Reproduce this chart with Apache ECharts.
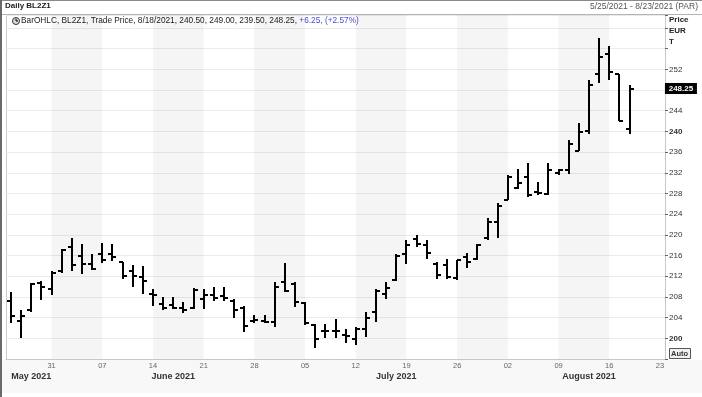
<!DOCTYPE html>
<html>
<head>
<meta charset="utf-8">
<script src="https://cdn.jsdelivr.net/npm/echarts@6/dist/echarts.min.js"></script>
<style>
html,body{margin:0;padding:0;background:#fff;}
#chart{width:702px;height:397px;}
</style>
</head>
<body>
<div id="chart"></div>
<script>
// trading days shown on the axis (5/25/2021 - 8/23/2021)
var days = ['05-25','05-26','05-27','05-28','05-31',
  '06-01','06-02','06-03','06-04','06-07','06-08','06-09','06-10','06-11',
  '06-14','06-15','06-16','06-17','06-18','06-21','06-22','06-23','06-24','06-25',
  '06-28','06-29','06-30','07-01','07-02','07-05','07-06','07-07','07-08','07-09',
  '07-12','07-13','07-14','07-15','07-16','07-19','07-20','07-21','07-22','07-23',
  '07-26','07-27','07-28','07-29','07-30','08-02','08-03','08-04','08-05','08-06',
  '08-09','08-10','08-11','08-12','08-13','08-16','08-17','08-18','08-19','08-20','08-23'];

// OHLC values, one per trading day up to 8/18
var openP  = [207.3,203.4,205.4,210.7,209.5,213.1,217.6,216.0,214.4,216.3,216.3,214.7,213.1,211.8,
  208.5,206.7,206.5,205.9,205.9,207.6,208.3,208.1,207.3,205.9,203.4,203.3,203.1,210.8,210.5,
  206.9,202.5,201.4,201.5,200.7,199.9,201.8,205.0,208.5,211.3,216.3,219.2,218.0,214.3,214.1,
  211.7,215.7,215.4,219.3,222.5,226.8,229.0,231.1,228.3,227.9,231.9,232.6,236.3,240.0,251.0,
  255.0,251.0,240.50];
var highP  = [209.0,205.5,210.7,211.0,213.0,217.3,219.4,218.3,216.3,218.4,218.3,214.7,214.1,213.9,
  209.6,207.9,207.9,207.0,209.7,209.6,209.9,210.0,207.6,206.3,204.5,204.5,210.8,214.6,210.8,
  207.0,202.8,202.8,203.7,201.8,202.1,205.0,209.5,210.8,216.3,219.0,219.9,219.0,214.8,215.4,
  215.1,216.5,218.3,223.2,226.1,231.5,232.8,233.8,230.3,233.8,232.8,238.4,241.7,249.9,258.1,
  256.5,251.0,249.00];
var lowP   = [203.0,200.1,205.0,207.4,208.3,212.6,213.0,212.5,213.2,214.5,215.0,211.5,210.0,208.6,
  206.3,205.5,205.6,204.9,205.7,205.7,207.3,207.3,203.9,201.3,203.0,203.0,202.1,208.9,206.0,
  202.6,198.2,200.1,200.1,199.0,198.8,200.2,203.1,207.6,211.0,214.4,217.6,215.4,211.4,211.5,
  211.3,213.5,215.2,219.1,219.3,226.7,228.8,227.4,227.7,227.7,231.5,231.7,236.2,239.5,249.4,
  250.0,242.0,239.50];
var closeP = [204.4,204.4,210.5,209.9,212.7,217.1,214.1,214.4,213.4,215.2,215.7,212.1,212.1,211.0,
  208.3,205.9,205.9,205.5,209.4,208.3,207.8,207.8,205.5,202.3,203.6,203.2,209.9,209.2,207.0,
  203.0,199.9,201.5,201.5,200.5,201.8,204.0,209.1,209.7,216.0,218.0,218.3,216.4,212.2,211.9,
  215.1,214.8,218.0,222.5,225.5,231.1,230.1,227.7,228.1,232.5,232.6,237.6,239.9,248.9,254.4,
  251.5,242.0,248.25];
var lastPrice = 248.25;

// axis labels
var weekTicks = ['05-31','06-07','06-14','06-21','06-28','07-05','07-12','07-19','07-26','08-02','08-09','08-16','08-23'];
var monthStarts = ['06-01','07-01','08-02'];
var monthDays = ['05-27','06-16','07-16','08-12'];
var monthNames = ['May 2021','June 2021','July 2021','August 2021'];
var shadeWeeks = [['05-31','06-07'],['06-14','06-21'],['06-28','07-05'],['07-12','07-19'],['07-26','08-02'],['08-09','08-16']];

var FONT = '"Liberation Sans", Arial, sans-serif';

var barData = [];
for (let i = 0; i < closeP.length; i++) {
    barData.push([i, openP[i], highP[i], lowP[i], closeP[i]]);
}

// OHLC bar: high-low stem, open tick left, close tick right
function renderBar(params, api) {
    var idx = api.value(0);
    var x = Math.round(api.coord([idx, api.value(1)])[0]);
    var yo = Math.round(api.coord([idx, api.value(1)])[1]);
    var yh = Math.round(api.coord([idx, api.value(2)])[1]);
    var yl = Math.round(api.coord([idx, api.value(3)])[1]);
    var yc = Math.round(api.coord([idx, api.value(4)])[1]);
    var st = {stroke: '#000', lineWidth: 2};
    return {
        type: 'group',
        children: [
            {type: 'line', shape: {x1: x, y1: yh, x2: x, y2: yl}, style: st},
            {type: 'line', shape: {x1: x - 4, y1: yo, x2: x, y2: yo}, style: st},
            {type: 'line', shape: {x1: x, y1: yc, x2: x + 4, y2: yc}, style: st}
        ]
    };
}

var chart = echarts.init(document.getElementById('chart'), null, {renderer: 'canvas'});

var option = {
    animation: false,
    backgroundColor: '#fff',
    grid: {left: 6, right: 37, top: 15, bottom: 38},
    xAxis: [{
        type: 'category',
        data: days,
        axisLine: {lineStyle: {color: '#c8c8c8'}},
        axisTick: {
            alignWithLabel: true, length: 2,
            interval: function (i, v) { return weekTicks.indexOf(v) >= 0; },
            lineStyle: {color: '#888'}
        },
        axisLabel: {
            interval: function (i, v) { return weekTicks.indexOf(v) >= 0; },
            formatter: function (v) { return v.slice(3); },
            margin: 3, fontSize: 7.5, color: '#666', fontFamily: FONT
        },
        splitLine: {show: false}
    }, {
        type: 'category',
        data: days,
        position: 'bottom',
        offset: 13,
        axisLine: {show: false},
        axisTick: {
            alignWithLabel: true, length: 9,
            interval: function (i, v) { return monthStarts.indexOf(v) >= 0; },
            lineStyle: {color: '#333'}
        },
        axisLabel: {
            interval: function (i, v) { return monthDays.indexOf(v) >= 0; },
            formatter: function (v) { return monthNames[monthDays.indexOf(v)]; },
            margin: 0, fontSize: 9, fontWeight: 'bold', color: '#333', fontFamily: FONT
        },
        splitLine: {show: false}
    }],
    yAxis: {
        type: 'value',
        position: 'right',
        min: 196,
        max: 262.5,
        interval: 4,
        axisLine: {show: true, lineStyle: {color: '#c8c8c8'}},
        axisTick: {show: true, length: 3, lineStyle: {color: '#666'}},
        splitLine: {lineStyle: {color: '#ebebeb'}},
        axisLabel: {
            margin: 4, fontSize: 8, color: '#333', fontFamily: FONT,
            formatter: function (v) {
                if (v < 200 || v > 252 || v === 248) return '';
                if (v === 200 || v === 240) return '{b|' + v + '}';
                return String(v);
            },
            rich: {b: {fontWeight: 'bold', fontSize: 8, color: '#333', fontFamily: FONT}}
        }
    },
    series: [{
        type: 'line',
        data: [],
        z: 1,
        silent: true,
        markArea: {
            silent: true,
            itemStyle: {color: 'rgba(0,0,0,0.04)'},
            data: shadeWeeks.map(function (w) { return [{xAxis: w[0]}, {xAxis: w[1]}]; })
        }
    }, {
        type: 'custom',
        z: 5,
        renderItem: renderBar,
        encode: {x: 0, y: [1, 2, 3, 4]},
        data: barData
    }],
    graphic: [
        {type: 'rect', z: -10, shape: {x: 2, y: 360, width: 700, height: 33}, style: {fill: '#f8f8f8'}},
        {type: 'line', shape: {x1: 0, y1: 0.5, x2: 702, y2: 0.5}, style: {stroke: '#8a8a8a', lineWidth: 1}},
        {type: 'line', shape: {x1: 1, y1: 0, x2: 1, y2: 397}, style: {stroke: '#6a6a6a', lineWidth: 2}},
        {type: 'line', shape: {x1: 6.5, y1: 15, x2: 6.5, y2: 359}, style: {stroke: '#c8c8c8', lineWidth: 1}},
        {type: 'line', shape: {x1: 2, y1: 14.5, x2: 702, y2: 14.5}, style: {stroke: '#b4b4b4', lineWidth: 1}},
        {type: 'text', left: 5, top: 2, style: {text: 'Daily BL2Z1', font: 'bold 8px ' + FONT, fill: '#222'}},
        {type: 'text', right: 4, top: 2, style: {text: '5/25/2021 - 8/23/2021 (PAR)', font: '8.5px ' + FONT, fill: '#555'}},
        {type: 'circle', shape: {cx: 16, cy: 21, r: 3.5}, style: {fill: '#ddd', stroke: '#333', lineWidth: 1}},
        {type: 'line', shape: {x1: 16, y1: 21, x2: 16, y2: 18.5}, style: {stroke: '#000', lineWidth: 1}},
        {type: 'line', shape: {x1: 16, y1: 21, x2: 18, y2: 21}, style: {stroke: '#000', lineWidth: 1}},
        {type: 'text', left: 21, top: 16.5, style: {
            text: '{a|BarOHLC, BL2Z1, Trade Price, 8/18/2021, 240.50, 249.00, 239.50, 248.25, }{b|+6.25, (+2.57%)}',
            rich: {
                a: {font: '8.3px ' + FONT, fill: '#222'},
                b: {font: '8.3px ' + FONT, fill: '#4b4bd6'}
            }
        }},
        {type: 'text', left: 669, top: 16, style: {text: 'Price', font: 'bold 8px ' + FONT, fill: '#222'}},
        {type: 'text', left: 669, top: 27, style: {text: 'EUR', font: 'bold 8px ' + FONT, fill: '#222'}},
        {type: 'text', left: 669, top: 38, style: {text: 'T', font: 'bold 8px ' + FONT, fill: '#222'}},
        {type: 'rect', shape: {x: 669.5, y: 348.5, width: 21, height: 10}, style: {fill: '#f0f0f0', stroke: '#555', lineWidth: 1}},
        {type: 'text', left: 671, top: 349.5, style: {text: 'Auto', font: 'bold 7.5px ' + FONT, fill: '#333'}}
    ]
};

chart.setOption(option);

// last price tag on the right axis, placed through the y scale
var tagY = Math.round(chart.convertToPixel({yAxisIndex: 0}, lastPrice));
var tagX = chart.convertToPixel({xAxisIndex: 0}, days[days.length - 1]) + 5;
chart.setOption({
    graphic: option.graphic.concat([
        {type: 'rect', z: 20, shape: {x: tagX, y: tagY - 6, width: 32, height: 11}, style: {fill: '#000'}},
        {type: 'text', z: 21, x: tagX + 16, y: tagY, style: {
            text: lastPrice.toFixed(2), font: 'bold 8px ' + FONT, fill: '#fff',
            align: 'center', verticalAlign: 'middle'
        }}
    ])
});
</script>
</body>
</html>
